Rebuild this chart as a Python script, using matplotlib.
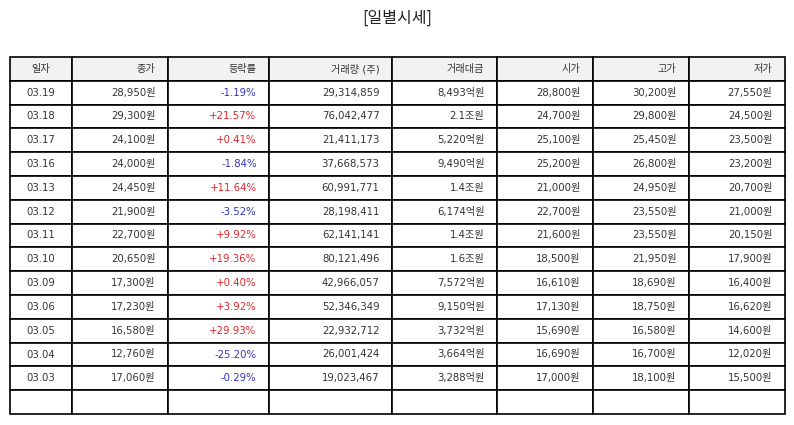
import matplotlib
matplotlib.use("Agg")
import matplotlib.pyplot as plt

plt.rcParams['font.family'] = ['DejaVu Sans', 'Noto Sans CJK KR']

# data
headers = ["일자", "종가", "등락률", "거래량 (주)", "거래대금", "시가", "고가", "저가"]
dates = ["03.19", "03.18", "03.17", "03.16", "03.13", "03.12", "03.11",
         "03.10", "03.09", "03.06", "03.05", "03.04", "03.03"]
close = ["28,950원", "29,300원", "24,100원", "24,000원", "24,450원", "21,900원", "22,700원",
         "20,650원", "17,300원", "17,230원", "16,580원", "12,760원", "17,060원"]
change = ["-1.19%", "+21.57%", "+0.41%", "-1.84%", "+11.64%", "-3.52%", "+9.92%",
          "+19.36%", "+0.40%", "+3.92%", "+29.93%", "-25.20%", "-0.29%"]
volume = ["29,314,859", "76,042,477", "21,411,173", "37,668,573", "60,991,771", "28,198,411",
          "62,141,141", "80,121,496", "42,966,057", "52,346,349", "22,932,712", "26,001,424",
          "19,023,467"]
amount = ["8,493억원", "2.1조원", "5,220억원", "9,490억원", "1.4조원", "6,174억원", "1.4조원",
          "1.6조원", "7,572억원", "9,150억원", "3,732억원", "3,664억원", "3,288억원"]
open_p = ["28,800원", "24,700원", "25,100원", "25,200원", "21,000원", "22,700원", "21,600원",
          "18,500원", "16,610원", "17,130원", "15,690원", "16,690원", "17,000원"]
high = ["30,200원", "29,800원", "25,450원", "26,800원", "24,950원", "23,550원", "23,550원",
        "21,950원", "18,690원", "18,750원", "16,580원", "16,700원", "18,100원"]
low = ["27,550원", "24,500원", "23,500원", "23,200원", "20,700원", "21,000원", "20,150원",
       "17,900원", "16,400원", "16,620원", "14,600원", "12,020원", "15,500원"]

col_w = [62, 96, 101, 123, 105, 96, 96, 96]

rows = [list(r) for r in zip(dates, close, change, volume, amount, open_p, high, low)]
rows.append([""] * 8)

fig = plt.figure(figsize=(7.94, 4.25), dpi=100)
ax = fig.add_axes([0, 0, 1, 1])
ax.axis('off')

fig.text(0.5, 0.957, "[일별시세]", ha='center', va='center', fontsize=11.5,
         family=['Noto Sans CJK KR', 'DejaVu Sans'], color='#222222')

tot = sum(col_w)
tbl = ax.table(cellText=rows, colLabels=headers,
               colWidths=[w / tot for w in col_w],
               bbox=[10 / 794, 1 - 414 / 425, 775 / 794, 357 / 425])
tbl.auto_set_font_size(False)

for (r, c), cell in tbl.get_celld().items():
    cell.set_linewidth(1.2)
    cell.set_edgecolor('black')
    txt = cell.get_text()
    txt.set_fontsize(7.3)
    txt.set_color('#333333')
    if c == 0:
        cell._loc = 'center'
        txt.set_ha('center')
    else:
        cell._loc = 'right'
        txt.set_ha('right')
        cell.PAD = 12.5 / col_w[c]
    if r == 0:
        cell.set_facecolor('#f2f2f2')
    elif c == 2 and r - 1 < len(change):
        v = change[r - 1]
        txt.set_color('#e0262b' if v.startswith('+') else '#3333c0')

fig.savefig("out.png", dpi=100)
